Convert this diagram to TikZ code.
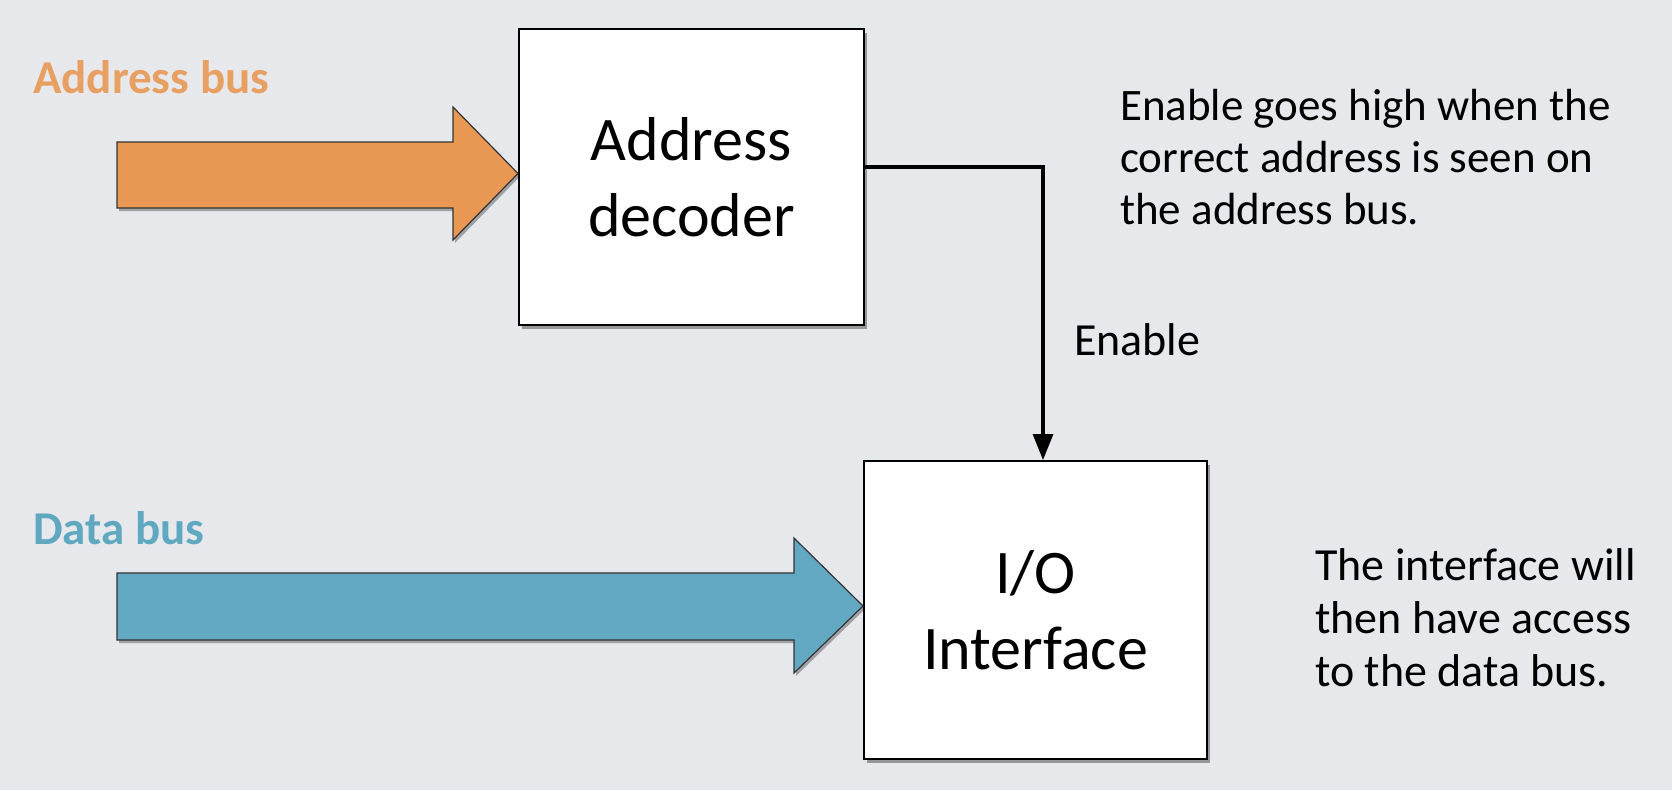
\documentclass[tikz,border=0pt]{standalone}
\usepackage{fontspec}
\setmainfont{Carlito}
\usetikzlibrary{arrows.meta,shadows}
\definecolor{bgcol}{RGB}{230,232,236}
\definecolor{busorange}{RGB}{233,152,84}
\definecolor{busblue}{RGB}{99,168,194}
\definecolor{lblorange}{RGB}{232,160,98}
\definecolor{lblblue}{RGB}{96,168,192}
\tikzset{
  blockbox/.style={draw=black, line width=2pt, fill=white, align=center,
    font=\fontsize{62}{76}\selectfont, inner sep=0pt,
    drop shadow={shadow xshift=3pt, shadow yshift=-4pt, opacity=0.35, fill=black}},
  busarrow/.style={draw=black!80, line width=1.2pt,
    drop shadow={shadow xshift=2pt, shadow yshift=-3pt, opacity=0.3, fill=black}},
  buslabel/.style={font=\fontsize{47}{52}\selectfont\bfseries, anchor=west, inner sep=0pt},
  note/.style={font=\fontsize{45}{52}\selectfont, align=left, anchor=west, inner sep=0pt},
  conn/.style={draw=black, line width=3.2pt, -{Triangle[length=26pt,width=20pt]}}
}
\begin{document}
\begin{tikzpicture}[x=1pt,y=-1pt]
\fill[bgcol] (0,0) rectangle (1672,790);
\useasboundingbox (0,0) rectangle (1672,790);

% boxes
\node[blockbox, minimum width=345pt, minimum height=296pt] (dec) at (691.5,177) {Address\\decoder};
\node[blockbox, minimum width=343pt, minimum height=298pt] (io) at (1035.5,610) {I/O\\Interface};

% bus arrows
\path[busarrow, fill=busorange] (117,142) -- (453,142) -- (453,107) -- (dec.west |- 0,173.5) -- (453,240) -- (453,208) -- (117,208) -- cycle;
\path[busarrow, fill=busblue] (117,573) -- (794,573) -- (794,538) -- (io.west |- 0,606) -- (794,673) -- (794,640) -- (117,640) -- cycle;

% labels
\node[buslabel, text=lblorange] (alabel) at (33,77) {Address bus};
\node[buslabel, text=lblblue] (dlabel) at (33,528) {Data bus};

% enable connector
\coordinate (en) at (1043,167);
\draw[conn] (dec.east |- en) -| (io.north -| en);
\node[note, font=\fontsize{46}{52}\selectfont] (enlabel) at (1074,340) {Enable};

% notes
\node[note] (note1) at (1120,157) {Enable goes high when the\\correct address is seen on\\the address bus.};
\node[note, font=\fontsize{46}{53}\selectfont] (note2) at (1315,618) {The interface will\\then have access\\to the data bus.};
\end{tikzpicture}
\end{document}
